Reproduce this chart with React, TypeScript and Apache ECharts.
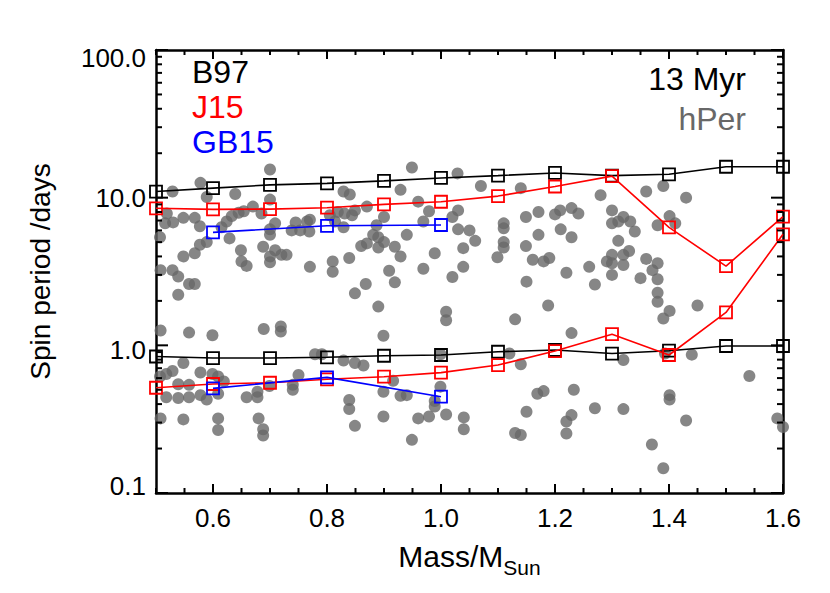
import React, { useEffect, useRef } from "react";
import * as echarts from "echarts";

// ---- data ----
const modelMass = [0.5, 0.6, 0.7, 0.8, 0.9, 1.0, 1.1, 1.2, 1.3, 1.4, 1.5, 1.6];
const b97Upper = [11.0, 11.6, 12.2, 12.5, 13.0, 13.6, 14.1, 14.7, 14.1, 14.4, 16.2, 16.2];
const b97Lower = [0.84, 0.82, 0.82, 0.83, 0.85, 0.86, 0.905, 0.93, 0.88, 0.92, 0.99, 0.99];
const j15Upper = [8.47, 8.33, 8.37, 8.55, 9.0, 9.38, 10.25, 11.9, 14.0, 6.29, 3.44, 7.43];
const j15Lower = [0.516, 0.547, 0.558, 0.589, 0.613, 0.653, 0.735, 0.915, 1.19, 0.86, 1.67, 5.65];
const gb15Mass = [0.6, 0.8, 1.0];
const gb15Upper = [5.82, 6.45, 6.53];
const gb15Lower = [0.511, 0.607, 0.449];

// hPer stars: [mass, period/days]
const hPerStars: [number, number][] = [
  [0.70, 15.5], [0.578, 12.6], [0.529, 11.0], [0.589, 10.1], [0.639, 10.6], [0.70, 9.7], [0.829, 11.0], [0.84, 10.5],
  [0.67, 8.7], [0.519, 7.8], [0.548, 7.3], [0.568, 7.3], [0.516, 6.7], [0.53, 6.8], [0.577, 6.4], [0.615, 6.3],
  [0.624, 6.9], [0.633, 7.5], [0.645, 7.9], [0.654, 8.1], [0.685, 7.8], [0.709, 6.7], [0.70, 6.1], [0.70, 5.6],
  [0.507, 5.4], [0.629, 5.3], [0.589, 5.0], [0.577, 4.8], [0.568, 4.2], [0.548, 4.0], [0.649, 4.4], [0.688, 4.65],
  [0.709, 4.4], [0.70, 4.0], [0.70, 3.65], [0.72, 4.1], [0.729, 4.1], [0.65, 3.7], [0.659, 3.45], [0.508, 3.23],
  [0.529, 3.23], [0.539, 2.92], [0.558, 2.6], [0.568, 2.6], [0.539, 2.2], [0.738, 6.0], [0.745, 6.8], [0.753, 6.0],
  [0.765, 6.9], [0.77, 7.1], [0.769, 5.9], [0.77, 3.4], [0.805, 7.6], [0.819, 8.0], [0.831, 7.8], [0.844, 7.6],
  [0.814, 6.9], [0.829, 6.3], [0.849, 8.2], [0.81, 3.7], [0.81, 3.15], [0.839, 3.9], [0.849, 2.25],
  [0.949, 16.0], [1.029, 14.6], [0.929, 11.3], [1.07, 12.0], [1.14, 11.6], [0.87, 8.7], [0.90, 7.4], [0.96, 9.4],
  [0.979, 8.1], [0.969, 6.9], [1.02, 7.4], [1.03, 8.2], [0.887, 6.5], [0.881, 5.6], [0.89, 5.4], [0.90, 5.0],
  [0.89, 4.6], [0.87, 4.9], [0.86, 4.7], [0.94, 5.6], [0.919, 4.65], [0.929, 4.0], [0.989, 4.2], [0.909, 3.2],
  [0.969, 3.3], [0.868, 2.6], [0.919, 2.67], [0.89, 1.83], [1.009, 1.69], [1.03, 6.1], [1.05, 6.0], [1.06, 5.1],
  [1.039, 4.55], [1.039, 3.4], [1.02, 2.9], [1.11, 6.7], [1.11, 6.2], [1.11, 5.0], [1.11, 4.6], [1.099, 3.95],
  [1.149, 7.4], [1.171, 8.0], [1.171, 5.6], [1.149, 4.7], [1.161, 3.8], [1.18, 3.7], [1.19, 3.9], [1.15, 2.7],
  [1.188, 1.86], [1.20, 7.7], [1.209, 8.2], [1.21, 6.1], [1.229, 8.5], [1.229, 5.4], [1.22, 3.1],
  [1.28, 10.4], [1.36, 11.0], [1.39, 12.0], [1.43, 10.0], [1.241, 7.8], [1.30, 8.2], [1.32, 7.4], [1.332, 6.9],
  [1.30, 6.7], [1.311, 6.9], [1.34, 5.9], [1.401, 7.5], [1.411, 6.7], [1.38, 6.5], [1.311, 5.1], [1.32, 4.1],
  [1.33, 4.35], [1.291, 3.7], [1.30, 4.1], [1.30, 3.6], [1.32, 3.5], [1.36, 3.85], [1.38, 3.6], [1.371, 3.23],
  [1.26, 3.4], [1.30, 3.0], [1.35, 2.85], [1.38, 2.8], [1.27, 2.58], [1.38, 2.27], [1.38, 1.97], [1.401, 1.71],
  [1.45, 1.86],
  [0.508, 1.26], [0.558, 1.22], [0.599, 1.17], [0.689, 1.29], [0.719, 1.34], [0.719, 1.24], [0.548, 0.76],
  [0.507, 0.615], [0.518, 0.64], [0.529, 0.67], [0.578, 0.655], [0.599, 0.64], [0.609, 0.615], [0.619, 0.57],
  [0.518, 0.445], [0.539, 0.44], [0.558, 0.445], [0.539, 0.545], [0.558, 0.54], [0.578, 0.46], [0.589, 0.43],
  [0.609, 0.47], [0.659, 0.445], [0.678, 0.485], [0.678, 0.445], [0.699, 0.53], [0.74, 0.54], [0.74, 0.50],
  [0.75, 0.63], [0.508, 0.32], [0.548, 0.315], [0.609, 0.32], [0.609, 0.267], [0.68, 0.32], [0.688, 0.27],
  [0.688, 0.245], [0.779, 0.87], [0.791, 0.87], [0.829, 0.79], [0.849, 0.76], [0.864, 0.73], [0.839, 0.426],
  [0.839, 0.37], [0.849, 0.285],
  [1.009, 1.48], [1.13, 1.50], [0.899, 1.16], [0.916, 0.575], [0.929, 0.455], [0.94, 0.46], [0.899, 0.485],
  [0.999, 0.525], [0.989, 0.42], [0.989, 0.385], [0.899, 0.33], [0.96, 0.32], [0.979, 0.33], [1.009, 0.34],
  [1.04, 0.325], [1.04, 0.27], [0.949, 0.229], [1.12, 0.88], [1.14, 0.745], [1.169, 0.47], [1.18, 0.49],
  [1.15, 0.355], [1.13, 0.255], [1.14, 0.247], [1.229, 1.21], [1.233, 0.50], [1.22, 0.305], [1.229, 0.337],
  [1.22, 0.253], [0.999, 0.87],
  [1.39, 1.52], [1.32, 0.795], [1.393, 0.88], [1.44, 0.865], [1.541, 0.62], [1.401, 0.46], [1.401, 0.43],
  [1.27, 0.375], [1.32, 0.37], [1.43, 0.31], [1.37, 0.213], [1.39, 0.147], [1.59, 0.32], [1.60, 0.28],
];

const xRange = [0.5, 1.6];
const yRange = [0.1, 100];
const xMinorStep = 0.05;
const xMajorStep = 0.2;
const yDecades = [0.1, 1, 10];

const FONT = "'Liberation Sans', Arial, Helvetica, sans-serif";
const GRAY = "#686868";

const pair = (xs: number[], ys: number[]) => xs.map((x, i) => [x, ys[i]]);

export default function App() {
  const ref = useRef<HTMLDivElement>(null);
  useEffect(() => {
    if (!ref.current) return;
    document.body.style.margin = "0";
    const chart = echarts.init(ref.current, null, { renderer: "svg" });

    const axisLine = { show: true, onZero: false, lineStyle: { color: "#000", width: 2.5 } };

    const lineSeries = (name: string, xs: number[], ys: number[], color: string) => ({
      name,
      type: "line",
      data: pair(xs, ys),
      symbol: "rect",
      symbolSize: 12,
      showAllSymbol: true,
      clip: false,
      z: 5,
      lineStyle: { color, width: 1.6 },
      itemStyle: { color: "rgba(0,0,0,0)", borderColor: color, borderWidth: 1.8 },
      emphasis: { disabled: true },
    });

    const tickRenderer = (_params: any, api: any) => {
      const [L, B] = api.coord([xRange[0], yRange[0]]);
      const [R, T] = api.coord([xRange[1], yRange[1]]);
      const children: any[] = [];
      const seg = (x1: number, y1: number, x2: number, y2: number) =>
        children.push({ type: "line", shape: { x1, y1, x2, y2 }, style: { stroke: "#000", lineWidth: 2 } });
      const nX = Math.round((xRange[1] - xRange[0]) / xMinorStep);
      for (let i = 0; i <= nX; i++) {
        const m = xRange[0] + i * xMinorStep;
        const x = api.coord([m, 1])[0];
        const r = m / xMajorStep;
        const major = Math.abs(r - Math.round(r)) < 1e-6;
        const len = major ? 9 : 5;
        seg(x, B, x, B - len);
        seg(x, T, x, T + len);
      }
      const yVals: [number, boolean][] = [];
      yDecades.forEach((d) => {
        for (let k = 1; k <= 9; k++) yVals.push([k * d, k === 1]);
      });
      yVals.push([yRange[1], true]);
      yVals.forEach(([v, major]) => {
        const y = api.coord([1, v])[1];
        const len = major ? 12 : 6;
        seg(L, y, L + len, y);
        seg(R, y, R - len, y);
      });
      return { type: "group", children };
    };

    const yLabelStyle = { color: "#000", fontSize: 26, fontFamily: FONT };

    chart.setOption({
      animation: false,
      backgroundColor: "#fff",
      grid: { left: 156, right: 47, top: 50, bottom: 100, containLabel: false },
      xAxis: [
        {
          type: "value",
          min: xRange[0],
          max: xRange[1],
          interval: 0.1,
          position: "bottom",
          axisLine,
          axisTick: { show: false },
          splitLine: { show: false },
          axisLabel: {
            color: "#000",
            fontSize: 26,
            fontFamily: FONT,
            margin: 12,
            formatter: (v: number) => {
              const k = Math.round(v * 10);
              return k % 2 === 0 && k > 5 ? (k / 10).toFixed(1) : "";
            },
          },
          name: "Mass/M{sub|Sun}",
          nameLocation: "middle",
          nameGap: 34,
          nameTextStyle: {
            color: "#000",
            fontSize: 30,
            fontFamily: FONT,
            lineHeight: 42,
            rich: {
              sub: { fontSize: 21, fontFamily: FONT, color: "#000", verticalAlign: "bottom", lineHeight: 21 },
            },
          },
        },
        {
          type: "value",
          min: xRange[0],
          max: xRange[1],
          position: "top",
          axisLine,
          axisTick: { show: false },
          axisLabel: { show: false },
          splitLine: { show: false },
        },
      ],
      yAxis: [
        {
          type: "log",
          logBase: 10,
          min: yRange[0],
          max: yRange[1],
          position: "left",
          axisLine,
          axisTick: { show: false },
          splitLine: { show: false },
          minorTick: { show: false },
          axisLabel: {
            ...yLabelStyle,
            margin: 10,
            formatter: (v: number) => {
              const s = v.toFixed(1);
              if (v > 50) return `{top|${s}}`;
              if (v < 0.5) return `{bot|${s}}`;
              if (v < 5) return `{one|${s}}`;
              return s;
            },
            rich: {
              top: { ...yLabelStyle, padding: [16, 0, 0, 0] },
              one: { ...yLabelStyle, padding: [10, 0, 0, 0] },
              bot: { ...yLabelStyle, padding: [0, 0, 14, 0] },
            },
          },
          name: "Spin period /days",
          nameLocation: "middle",
          nameGap: 102,
          nameTextStyle: { color: "#000", fontSize: 28, fontFamily: FONT },
        },
        {
          type: "log",
          logBase: 10,
          min: yRange[0],
          max: yRange[1],
          position: "right",
          axisLine,
          axisTick: { show: false },
          axisLabel: { show: false },
          splitLine: { show: false },
        },
      ],
      graphic: [
        { type: "text", x: 192, y: 72, style: { text: "B97", fill: "#000", font: `32px ${FONT}`, verticalAlign: "middle" } },
        { type: "text", x: 192, y: 107, style: { text: "J15", fill: "#ff0000", font: `32px ${FONT}`, verticalAlign: "middle" } },
        { type: "text", x: 192, y: 142, style: { text: "GB15", fill: "#0000ff", font: `32px ${FONT}`, verticalAlign: "middle" } },
        { type: "text", x: 746, y: 79, style: { text: "13 Myr", fill: "#000", font: `32px ${FONT}`, align: "right", verticalAlign: "middle" } },
        { type: "text", x: 746, y: 119, style: { text: "hPer", fill: GRAY, font: `32px ${FONT}`, align: "right", verticalAlign: "middle" } },
      ],
      series: [
        {
          name: "hPer",
          type: "scatter",
          data: hPerStars,
          symbol: "circle",
          symbolSize: 12,
          itemStyle: { color: GRAY },
          z: 2,
          emphasis: { disabled: true },
        },
        lineSeries("B97 upper", modelMass, b97Upper, "#000000"),
        lineSeries("B97 lower", modelMass, b97Lower, "#000000"),
        lineSeries("J15 upper", modelMass, j15Upper, "#ff0000"),
        lineSeries("J15 lower", modelMass, j15Lower, "#ff0000"),
        lineSeries("GB15 upper", gb15Mass, gb15Upper, "#0000ff"),
        lineSeries("GB15 lower", gb15Mass, gb15Lower, "#0000ff"),
        {
          name: "ticks",
          type: "custom",
          data: [[1, 1]],
          renderItem: tickRenderer,
          clip: false,
          silent: true,
          z: 10,
        },
      ],
    });
    return () => chart.dispose();
  }, []);
  return <div ref={ref} style={{ width: 830, height: 593 }} />;
}
